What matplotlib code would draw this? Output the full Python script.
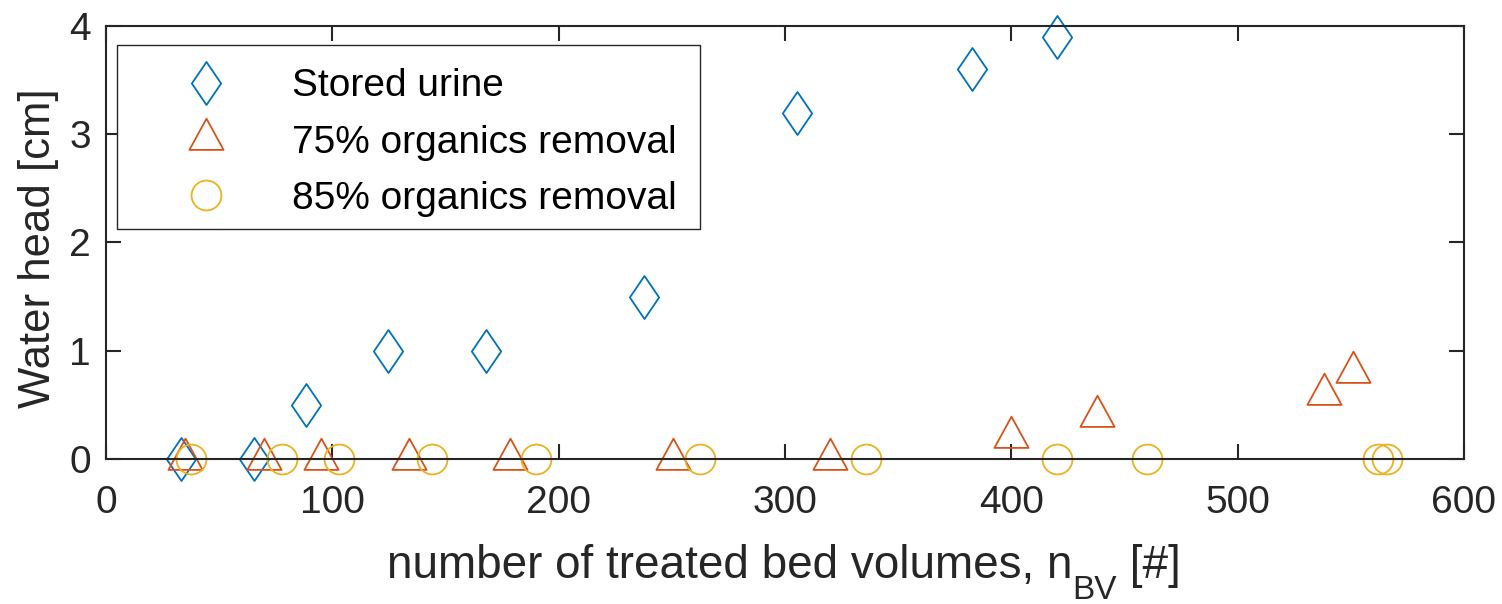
import matplotlib
matplotlib.use('Agg')
import matplotlib.pyplot as plt
from matplotlib.path import Path
from matplotlib.patches import Rectangle

plt.rcParams['font.family'] = ['Liberation Sans', 'DejaVu Sans']

# water head vs. treated bed volumes
stored_x = [33, 65.5, 88.5, 124.8, 168, 237.5, 305.5, 382.5, 420]
stored_y = [0, 0, 0.5, 1, 1, 1.5, 3.2, 3.6, 3.9]

r75_x = [35, 70, 94.8, 134, 178.5, 250.5, 320, 400, 438, 538, 551]
r75_y = [0, 0, 0, 0, 0, 0, 0, 0.2, 0.4, 0.6, 0.8]

r85_x = [37.7, 77.6, 103, 144, 190, 262.3, 336, 420.3, 460, 562, 566]
r85_y = [0, 0, 0, 0, 0, 0, 0, 0, 0, 0, 0]

labels = ['Stored urine', '75% organics removal', '85% organics removal']
colors = ['#0072BD', '#D95319', '#EDB120']

# matlab-ish markers: tall diamond, triangle centred on its centroid
diamond = Path([(0, 1), (0.68, 0), (0, -1), (-0.68, 0), (0, 1)], closed=True)
triangle = Path([(0, 0.667), (-0.547, -0.333), (0.547, -0.333), (0, 0.667)], closed=True)

ink = '#262626'
W, H = 1502, 604

fig = plt.figure(figsize=(W / 100, H / 100), dpi=100)
ax = fig.add_axes([0.0706, 0.2401, 0.9041, 0.7169])

kw = dict(linestyle='none', markerfacecolor='none', markeredgewidth=1.3, clip_on=False)
ax.plot(stored_x, stored_y, marker=diamond, markersize=31, color=colors[0],
        label=labels[0], **kw)
ax.plot(r75_x, r75_y, marker=triangle, markersize=30, color=colors[1],
        label=labels[1], **kw)
ax.plot(r85_x, r85_y, marker='o', markersize=21.5, color=colors[2],
        label=labels[2], **kw)

ax.set_xlim(0, 600)
ax.set_ylim(0, 4)
ax.set_xticks([0, 100, 200, 300, 400, 500, 600])
ax.set_yticks([0, 1, 2, 3, 4])

for s in ax.spines.values():
    s.set_linewidth(1.5)
    s.set_color(ink)
ax.tick_params(direction='in', length=10.8, width=1.5, color=ink,
               labelcolor=ink, labelsize=28, top=True, right=True)
ax.tick_params(axis='x', pad=19)
ax.tick_params(axis='y', pad=11)

ax.set_ylabel('Water head [cm]', fontsize=31.5, color=ink, labelpad=7)
ax.yaxis.label.set_y(0.486)

# legend box drawn separately so its padding can be uneven
box = Rectangle((0.0081, 0.5312), 0.4293, 0.4249, transform=ax.transAxes,
                facecolor='white', edgecolor=ink, linewidth=1.0, zorder=4.5)
ax.add_patch(box)
leg = ax.legend(loc='upper left', bbox_to_anchor=(0.0081, 0.9561),
                borderaxespad=0, fontsize=28, handlelength=3.38,
                handletextpad=0.53, borderpad=0.6, labelspacing=0.52,
                frameon=False)
for t in leg.get_texts():
    t.set_color('black')

# x label with a tex-style lowered subscript, built from three pieces
fig.canvas.draw()
rend = fig.canvas.get_renderer()
pieces = [('number of treated bed volumes, n', 33, 0),
          ('BV', 24, -21),
          (' [#]', 33, 0)]
base_y = H - 578
texts = []
x = 0
for s, size, dy in pieces:
    t = fig.text(x / W, (base_y + dy) / H, s, fontsize=size, color=ink,
                 ha='left', va='baseline')
    w = t.get_window_extent(rend).width
    texts.append((t, x))
    x += w
x_mid = 784
for t, x0 in texts:
    t.set_x((x_mid - x / 2 + x0) / W)

fig.savefig('out.png', dpi=100)
